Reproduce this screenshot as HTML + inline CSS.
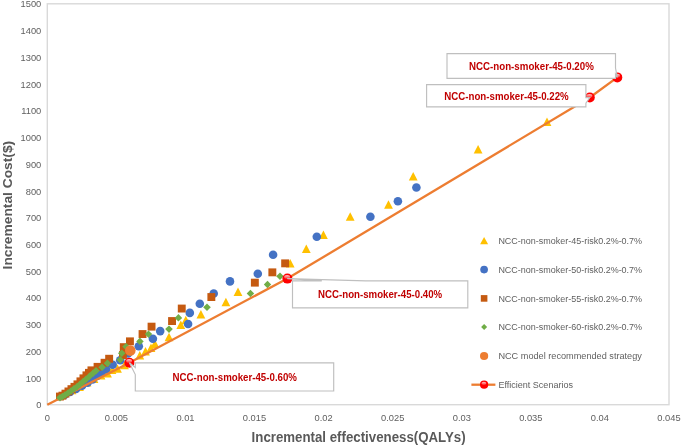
<!DOCTYPE html>
<html><head><meta charset="utf-8"><title>Chart</title>
<style>html,body{margin:0;padding:0;background:#fff}svg{display:block}text{font-family:"Liberation Sans",sans-serif}</style></head><body>
<svg width="685" height="447" viewBox="0 0 685 447">
<defs><linearGradient id="gl" x1="0" y1="0" x2="0" y2="1"><stop offset="0" stop-color="#fff" stop-opacity="0.82"/><stop offset="1" stop-color="#fff" stop-opacity="0.18"/></linearGradient></defs>
<rect width="685" height="447" fill="#fff"/>
<rect x="47.3" y="3.8" width="621.7" height="400.9" fill="none" stroke="#d9d9d9" stroke-width="1.4"/>
<text x="41.3" y="408.3" font-size="9.3" fill="#606060" text-anchor="end">0</text>
<text x="41.3" y="381.6" font-size="9.3" fill="#606060" text-anchor="end">100</text>
<text x="41.3" y="354.8" font-size="9.3" fill="#606060" text-anchor="end">200</text>
<text x="41.3" y="328.1" font-size="9.3" fill="#606060" text-anchor="end">300</text>
<text x="41.3" y="301.4" font-size="9.3" fill="#606060" text-anchor="end">400</text>
<text x="41.3" y="274.7" font-size="9.3" fill="#606060" text-anchor="end">500</text>
<text x="41.3" y="247.9" font-size="9.3" fill="#606060" text-anchor="end">600</text>
<text x="41.3" y="221.2" font-size="9.3" fill="#606060" text-anchor="end">700</text>
<text x="41.3" y="194.5" font-size="9.3" fill="#606060" text-anchor="end">800</text>
<text x="41.3" y="167.8" font-size="9.3" fill="#606060" text-anchor="end">900</text>
<text x="41.3" y="141.0" font-size="9.3" fill="#606060" text-anchor="end">1000</text>
<text x="41.3" y="114.3" font-size="9.3" fill="#606060" text-anchor="end">1100</text>
<text x="41.3" y="87.6" font-size="9.3" fill="#606060" text-anchor="end">1200</text>
<text x="41.3" y="60.9" font-size="9.3" fill="#606060" text-anchor="end">1300</text>
<text x="41.3" y="34.1" font-size="9.3" fill="#606060" text-anchor="end">1400</text>
<text x="41.3" y="7.4" font-size="9.3" fill="#606060" text-anchor="end">1500</text>
<text x="47.3" y="420.9" font-size="9.3" fill="#606060" text-anchor="middle">0</text>
<text x="116.4" y="420.9" font-size="9.3" fill="#606060" text-anchor="middle">0.005</text>
<text x="185.5" y="420.9" font-size="9.3" fill="#606060" text-anchor="middle">0.01</text>
<text x="254.5" y="420.9" font-size="9.3" fill="#606060" text-anchor="middle">0.015</text>
<text x="323.6" y="420.9" font-size="9.3" fill="#606060" text-anchor="middle">0.02</text>
<text x="392.7" y="420.9" font-size="9.3" fill="#606060" text-anchor="middle">0.025</text>
<text x="461.8" y="420.9" font-size="9.3" fill="#606060" text-anchor="middle">0.03</text>
<text x="530.8" y="420.9" font-size="9.3" fill="#606060" text-anchor="middle">0.035</text>
<text x="599.9" y="420.9" font-size="9.3" fill="#606060" text-anchor="middle">0.04</text>
<text x="669.0" y="420.9" font-size="9.3" fill="#606060" text-anchor="middle">0.045</text>
<text x="358.6" y="442.3" font-size="14" font-weight="bold" fill="#595959" text-anchor="middle" textLength="214" lengthAdjust="spacingAndGlyphs">Incremental effectiveness(QALYs)</text>
<text transform="translate(12.1,205.1) rotate(-90)" font-size="13.6" font-weight="bold" fill="#595959" text-anchor="middle" textLength="128.6" lengthAdjust="spacingAndGlyphs">Incremental Cost($)</text>
<g fill="#ffc000">
<path d="M547.0 117.5L551.4 126.0L542.6 126.0Z"/>
<path d="M478.1 145.1L482.5 153.6L473.7 153.6Z"/>
<path d="M413.2 172.1L417.6 180.6L408.8 180.6Z"/>
<path d="M388.5 200.3L392.9 208.8L384.1 208.8Z"/>
<path d="M350.2 212.2L354.6 220.7L345.8 220.7Z"/>
<path d="M323.4 230.4L327.8 238.9L319.0 238.9Z"/>
<path d="M306.3 244.6L310.7 253.1L301.9 253.1Z"/>
<path d="M290.2 259.1L294.6 267.6L285.8 267.6Z"/>
<path d="M238.0 287.4L242.4 295.9L233.6 295.9Z"/>
<path d="M225.9 297.8L230.3 306.2L221.5 306.2Z"/>
<path d="M200.9 310.1L205.3 318.6L196.5 318.6Z"/>
<path d="M185.8 315.8L190.2 324.2L181.4 324.2Z"/>
<path d="M180.8 320.6L185.2 329.1L176.4 329.1Z"/>
<path d="M169.0 332.8L173.4 341.2L164.6 341.2Z"/>
<path d="M154.9 339.4L159.3 347.9L150.5 347.9Z"/>
<path d="M151.0 343.6L155.4 352.1L146.6 352.1Z"/>
<path d="M145.5 346.9L149.9 355.4L141.1 355.4Z"/>
<path d="M139.8 351.1L144.2 359.6L135.4 359.6Z"/>
<path d="M124.5 360.7L128.9 369.2L120.1 369.2Z"/>
<path d="M117.5 364.3L121.9 372.8L113.1 372.8Z"/>
<path d="M112.0 365.5L116.4 374.0L107.6 374.0Z"/>
<path d="M107.5 369.0L111.9 377.5L103.1 377.5Z"/>
<path d="M101.0 370.9L105.4 379.4L96.6 379.4Z"/>
<path d="M94.0 374.5L98.4 383.0L89.6 383.0Z"/>
<path d="M87.0 378.1L91.4 386.6L82.6 386.6Z"/>
<path d="M79.5 382.4L83.9 390.9L75.1 390.9Z"/>
<path d="M72.0 385.7L76.4 394.2L67.6 394.2Z"/>
</g>
<g fill="#4472c4">
<circle cx="416.4" cy="187.5" r="4.3"/>
<circle cx="397.9" cy="201.3" r="4.3"/>
<circle cx="370.4" cy="216.8" r="4.3"/>
<circle cx="316.8" cy="236.7" r="4.3"/>
<circle cx="273.1" cy="254.7" r="4.3"/>
<circle cx="257.8" cy="273.8" r="4.3"/>
<circle cx="230.0" cy="281.4" r="4.3"/>
<circle cx="213.7" cy="293.5" r="4.3"/>
<circle cx="199.8" cy="303.7" r="4.3"/>
<circle cx="189.8" cy="312.9" r="4.3"/>
<circle cx="188.1" cy="324.0" r="4.3"/>
<circle cx="160.2" cy="331.1" r="4.3"/>
<circle cx="152.9" cy="338.7" r="4.3"/>
<circle cx="138.8" cy="346.2" r="4.3"/>
<circle cx="128.0" cy="353.5" r="4.3"/>
<circle cx="120.2" cy="360.2" r="4.3"/>
<circle cx="112.7" cy="364.7" r="4.3"/>
<circle cx="106.0" cy="369.3" r="4.3"/>
<circle cx="101.5" cy="372.5" r="4.3"/>
<circle cx="97.0" cy="376.0" r="4.3"/>
<circle cx="92.5" cy="379.5" r="4.3"/>
<circle cx="87.5" cy="382.8" r="4.3"/>
<circle cx="82.0" cy="385.8" r="4.3"/>
<circle cx="76.0" cy="389.0" r="4.3"/>
<circle cx="70.0" cy="392.0" r="4.3"/>
<circle cx="64.5" cy="395.0" r="4.3"/>
</g>
<g fill="#c55a11">
<rect x="281.2" y="259.4" width="7.9" height="7.9"/>
<rect x="268.4" y="268.4" width="7.9" height="7.9"/>
<rect x="250.9" y="278.7" width="7.9" height="7.9"/>
<rect x="207.4" y="293.1" width="7.9" height="7.9"/>
<rect x="177.8" y="304.6" width="7.9" height="7.9"/>
<rect x="168.1" y="317.1" width="7.9" height="7.9"/>
<rect x="147.6" y="322.7" width="7.9" height="7.9"/>
<rect x="138.6" y="330.1" width="7.9" height="7.9"/>
<rect x="126.0" y="337.4" width="7.9" height="7.9"/>
<rect x="119.8" y="343.2" width="7.9" height="7.9"/>
<rect x="119.0" y="351.1" width="7.9" height="7.9"/>
<rect x="105.2" y="354.8" width="7.9" height="7.9"/>
<rect x="100.6" y="358.8" width="7.9" height="7.9"/>
<rect x="93.6" y="362.9" width="7.9" height="7.9"/>
<rect x="87.5" y="366.4" width="7.9" height="7.9"/>
<rect x="85.0" y="368.9" width="7.9" height="7.9"/>
<rect x="82.5" y="371.4" width="7.9" height="7.9"/>
<rect x="79.5" y="374.4" width="7.9" height="7.9"/>
<rect x="76.5" y="377.4" width="7.9" height="7.9"/>
<rect x="73.5" y="380.4" width="7.9" height="7.9"/>
<rect x="70.5" y="382.9" width="7.9" height="7.9"/>
<rect x="67.5" y="385.2" width="7.9" height="7.9"/>
<rect x="64.5" y="387.5" width="7.9" height="7.9"/>
<rect x="61.5" y="389.7" width="7.9" height="7.9"/>
<rect x="58.5" y="391.7" width="7.9" height="7.9"/>
<rect x="56.0" y="392.6" width="7.9" height="7.9"/>
</g>
<g fill="#70ad47">
<path d="M280.0 272.4L283.8 276.2L280.0 279.9L276.2 276.2Z"/>
<path d="M267.5 280.8L271.2 284.5L267.5 288.2L263.8 284.5Z"/>
<path d="M250.4 289.8L254.2 293.5L250.4 297.2L246.7 293.5Z"/>
<path d="M207.0 303.4L210.8 307.2L207.0 310.9L203.2 307.2Z"/>
<path d="M178.4 314.1L182.2 317.9L178.4 321.6L174.7 317.9Z"/>
<path d="M169.0 325.4L172.8 329.1L169.0 332.9L165.2 329.1Z"/>
<path d="M148.5 330.4L152.2 334.1L148.5 337.9L144.8 334.1Z"/>
<path d="M139.9 337.6L143.7 341.4L139.9 345.1L136.2 341.4Z"/>
<path d="M126.1 342.9L129.8 346.6L126.1 350.4L122.3 346.6Z"/>
<path d="M121.8 349.4L125.5 353.2L121.8 356.9L118.0 353.2Z"/>
<path d="M120.2 355.9L124.0 359.7L120.2 363.4L116.5 359.7Z"/>
<path d="M107.4 359.4L111.2 363.2L107.4 366.9L103.7 363.2Z"/>
<path d="M102.1 363.6L105.8 367.3L102.1 371.1L98.3 367.3Z"/>
<path d="M96.0 367.1L99.8 370.8L96.0 374.6L92.2 370.8Z"/>
</g>
<circle cx="130.3" cy="350.6" r="5.3" fill="#ed7d31"/>
<polyline fill="none" stroke="#ed7d31" stroke-width="2.3" stroke-linejoin="round" points="47.3,404.7 129.4,362.7 287.4,278.6 589.8,97.5 617.3,77.4"/>
<g fill="#70ad47"><path d="M93.0 369.6L96.8 373.3L93.0 377.1L89.2 373.3Z"/><path d="M89.5 372.5L93.2 376.2L89.5 380.0L85.8 376.2Z"/><path d="M86.0 375.4L89.8 379.2L86.0 382.9L82.2 379.2Z"/><path d="M83.0 377.9L86.8 381.7L83.0 385.4L79.2 381.7Z"/><path d="M80.0 380.4L83.8 384.2L80.0 387.9L76.2 384.2Z"/><path d="M77.0 383.0L80.8 386.7L77.0 390.5L73.2 386.7Z"/><path d="M74.0 385.1L77.8 388.8L74.0 392.6L70.2 388.8Z"/><path d="M71.0 387.2L74.8 390.9L71.0 394.7L67.2 390.9Z"/><path d="M68.0 389.2L71.8 393.0L68.0 396.7L64.2 393.0Z"/><path d="M65.0 391.3L68.8 395.1L65.0 398.8L61.2 395.1Z"/><path d="M62.5 392.8L66.2 396.6L62.5 400.3L58.8 396.6Z"/><path d="M60.0 393.9L63.8 397.6L60.0 401.4L56.2 397.6Z"/></g>
<circle cx="129.4" cy="362.7" r="5" fill="#ff0000"/><ellipse cx="129.1" cy="361.0" rx="2.9" ry="1.9" fill="url(#gl)"/>
<circle cx="287.4" cy="278.6" r="5" fill="#ff0000"/><ellipse cx="287.1" cy="276.9" rx="2.9" ry="1.9" fill="url(#gl)"/>
<circle cx="589.8" cy="97.5" r="5" fill="#ff0000"/><ellipse cx="589.5" cy="95.8" rx="2.9" ry="1.9" fill="url(#gl)"/>
<circle cx="617.3" cy="77.4" r="5" fill="#ff0000"/><ellipse cx="617.0" cy="75.7" rx="2.9" ry="1.9" fill="url(#gl)"/>
<path d="M447 53.6H615.5V68L617.3 77.4L615.5 74.2V78.3H447Z" fill="#fff" stroke="#bfbfbf" stroke-width="1.15" stroke-linejoin="miter"/>
<text x="469" y="70.3" font-size="10.5" font-weight="bold" fill="#c00000" textLength="124.8" lengthAdjust="spacingAndGlyphs">NCC-non-smoker-45-0.20%</text>
<path d="M426.6 84.6H585.9V97.6L589.8 97.5L585.9 103.2V106.9H426.6Z" fill="#fff" stroke="#bfbfbf" stroke-width="1.15" stroke-linejoin="miter"/>
<text x="444.3" y="99.8" font-size="10.5" font-weight="bold" fill="#c00000" textLength="124.4" lengthAdjust="spacingAndGlyphs">NCC-non-smoker-45-0.22%</text>
<path d="M292.5 280.8H321.8L287.4 278.6L365.8 280.8H467.8V307.8H292.5Z" fill="#fff" stroke="#bfbfbf" stroke-width="1.15" stroke-linejoin="miter"/>
<text x="318.1" y="298.3" font-size="10.5" font-weight="bold" fill="#c00000" textLength="124.1" lengthAdjust="spacingAndGlyphs">NCC-non-smoker-45-0.40%</text>
<path d="M135.3 362.9H333.7V391H135.3V374.6L129.4 362.7L135.3 367.5Z" fill="#fff" stroke="#bfbfbf" stroke-width="1.15" stroke-linejoin="miter"/>
<text x="172.5" y="380.7" font-size="10.5" font-weight="bold" fill="#c00000" textLength="124.5" lengthAdjust="spacingAndGlyphs">NCC-non-smoker-45-0.60%</text>
<g fill="#ffc000"><path d="M484.1 237.0L488.1 244.3L480.1 244.3Z"/></g>
<circle cx="484.1" cy="269.6" r="3.85" fill="#4472c4"/>
<rect x="480.8" y="295.1" width="6.6" height="6.6" fill="#c55a11"/>
<path fill="#70ad47" d="M484.1 324.1L487.1 327.1L484.1 330.1L481.1 327.1Z"/>
<circle cx="484.1" cy="356.0" r="4.1" fill="#ed7d31"/>
<line x1="471.4" x2="495.4" y1="384.7" y2="384.7" stroke="#ed7d31" stroke-width="2.3"/>
<circle cx="484.1" cy="384.7" r="4.1" fill="#ff0000"/><ellipse cx="483.9" cy="383.3" rx="2.4" ry="1.6" fill="url(#gl)"/>
<text x="498.4" y="244.0" font-size="9.2" fill="#606060" textLength="143.7" lengthAdjust="spacingAndGlyphs">NCC-non-smoker-45-risk0.2%-0.7%</text>
<text x="498.4" y="272.9" font-size="9.2" fill="#606060" textLength="143.7" lengthAdjust="spacingAndGlyphs">NCC-non-smoker-50-risk0.2%-0.7%</text>
<text x="498.4" y="301.7" font-size="9.2" fill="#606060" textLength="143.7" lengthAdjust="spacingAndGlyphs">NCC-non-smoker-55-risk0.2%-0.7%</text>
<text x="498.4" y="330.4" font-size="9.2" fill="#606060" textLength="143.7" lengthAdjust="spacingAndGlyphs">NCC-non-smoker-60-risk0.2%-0.7%</text>
<text x="498.4" y="359.3" font-size="9.2" fill="#606060" textLength="143.5" lengthAdjust="spacingAndGlyphs">NCC model recommended strategy</text>
<text x="498.4" y="388.0" font-size="9.2" fill="#606060" textLength="74.6" lengthAdjust="spacingAndGlyphs">Efficient Scenarios</text>
</svg></body></html>
